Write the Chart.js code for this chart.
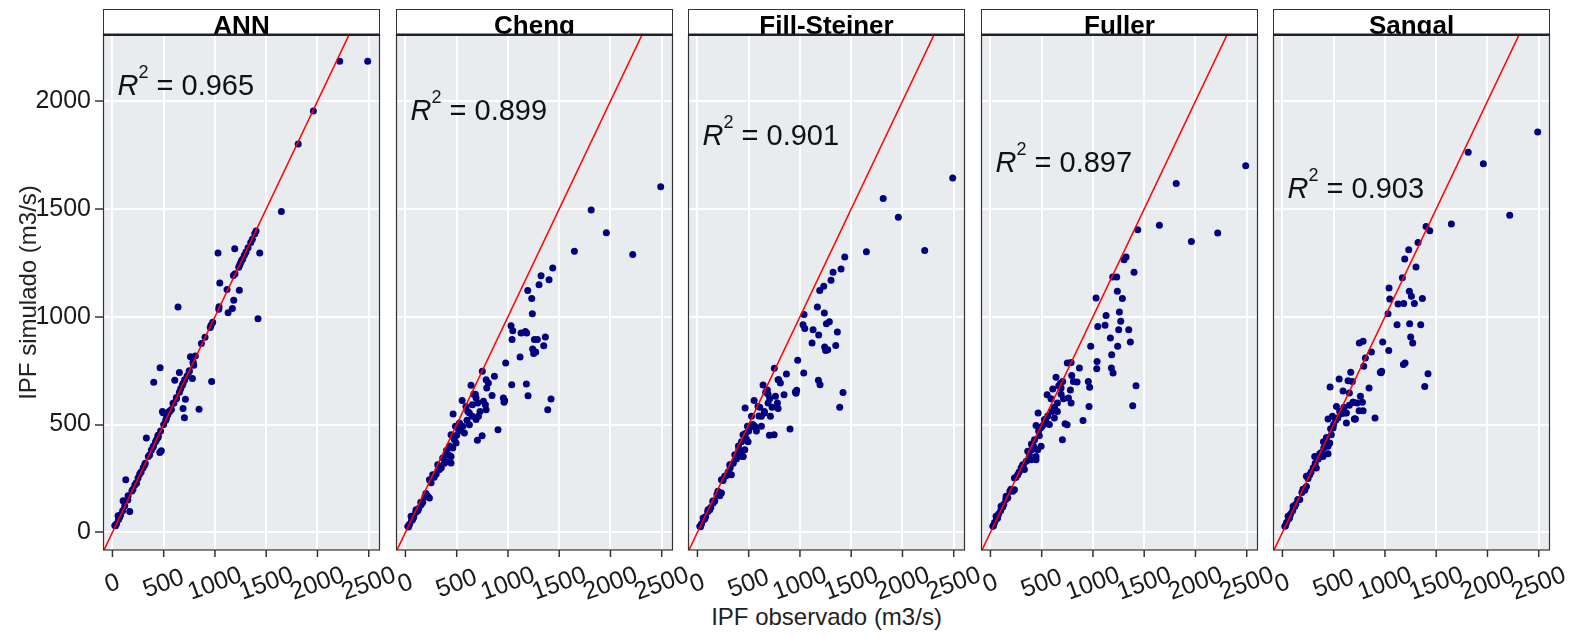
<!DOCTYPE html>
<html lang="pt">

<head>
    <meta charset="UTF-8">
    <title>IPF observado vs simulado</title>
    <script src="https://cdn.jsdelivr.net/npm/chart.js"></script>
    <style>
        body {
            margin: 0;
            background: #fff;
            width: 1573px;
            height: 638px;
            position: relative;
            overflow: hidden;
            font-family: "Liberation Sans", Arial, sans-serif;
        }

        canvas {
            position: absolute;
            top: 0;
        }

        #x-titulo {
            position: absolute;
            left: 103px;
            width: 1447px;
            top: 603px;
            text-align: center;
            font-size: 24px;
            line-height: 28px;
            color: #222;
        }
    </style>
</head>

<body>
    <div id="x-titulo">IPF observado (m3/s)</div>

    <script>
        // Modelos e R2
        const modelos = ['ANN', 'Cheng', 'Fill-Steiner', 'Fuller', 'Sangal'];
        const r2 = ['0.965', '0.899', '0.901', '0.897', '0.903'];
        const r2PosX = 50;
        const r2PosY = [2028, 1912, 1796, 1673, 1551];

        const xTicks = [0, 500, 1000, 1500, 2000, 2500];
        const yTicks = [0, 500, 1000, 1500, 2000];
        const xLimites = [-92, 2610];
        const yLimites = [-82, 2307];

        // IPF observado (m3/s), igual para todos os modelos
        const observado = [
            2490, 2217, 1960, 1812, 1648,
            1437, 1323, 1401, 1303, 1193, 1232, 1238, 1030, 1047, 1040, 1128, 1170, 1258, 1287, 1365, 1349, 1251, 1271, 1118, 1037, 1180, 1196, 1420, 1388, 1183, 1241,
            978, 955, 968, 962, 903, 868, 845,
            750, 787, 809, 793, 640, 761, 780, 787, 712, 689, 748, 702, 624, 689, 653, 624, 653, 591, 553, 608, 666, 728, 705, 682,
            465, 527, 559, 488, 575, 445, 477, 494, 462, 445, 403, 364, 445, 396, 315, 331, 266, 234, 234, 218,
            153, 104, 55, 23, 130, 169, 40, 80, 120, 190, 280, 300, 350, 380, 420, 500, 540, 600, 60, 100,
            250, 430, 470, 520, 30, 70, 150, 200, 320, 400
        ];

        // IPF simulado (m3/s) por modelo
        const simANN = [
            2185, 2185, 1954, 1801, 1488,
            1296, 1320, 1398, 1300, 1315, 1230, 1123, 1296, 1157, 1046, 1018, 1038, 1260, 1285, 1360, 1345, 1250, 1268, 1126, 1035, 1191, 1200, 991, 1385, 1077, 1240,
            975, 950, 700, 960, 905, 876, 571,
            750, 790, 818, 775, 1045, 815, 713, 785, 617, 574, 745, 531, 620, 690, 741, 625, 650, 599, 560, 705, 666, 725, 708, 682,
            764, 530, 560, 560, 570, 445, 378, 555, 370, 440, 696, 360, 450, 395, 312, 437, 270, 228, 230, 220,
            170, 147, 77, 32, 244, 97, 40, 82, 122, 192, 280, 300, 352, 382, 420, 500, 545, 600, 60, 100,
            252, 430, 470, 520, 30, 70, 150, 200, 320, 400
        ];
        const simCheng = [
            1603, 1289, 1390, 1495, 1304,
            1226, 1190, 1172, 1149, 1122, 1085, 1014, 958, 935, 894, 925, 932, 894, 894, 906, 866, 829, 836, 813, 685, 688, 634, 618, 569, 925, 850,
            785, 623, 612, 603, 476, 724, 635,
            747, 708, 693, 669, 682, 608, 592, 569, 538, 523, 448, 427, 499, 623, 592, 553, 538, 584, 611, 560, 640, 560, 600, 640,
            549, 507, 492, 492, 461, 453, 431, 414, 391, 352, 368, 345, 322, 329, 314, 291, 267, 244, 159, 167,
            128, 105, 74, 28, 110, 140, 38, 70, 100, 165, 255, 270, 300, 320, 360, 450, 480, 520, 55, 92,
            230, 400, 440, 470, 25, 60, 140, 180, 290, 380
        ];
        const simFillSteiner = [
            1644, 1307, 1462, 1549, 1302,
            1277, 1207, 1221, 1169, 1122, 1141, 1017, 963, 945, 1010, 940, 1045, 968, 977, 929, 867, 844, 847, 878, 739, 705, 685, 649, 580, 915, 860,
            798, 651, 659, 645, 479, 734, 638,
            761, 708, 693, 708, 683, 631, 600, 574, 538, 600, 453, 450, 492, 640, 553, 538, 560, 584, 611, 580, 650, 580, 620, 660,
            577, 538, 492, 492, 470, 453, 433, 420, 383, 352, 383, 360, 352, 352, 314, 267, 260, 244, 182, 170,
            136, 105, 66, 28, 115, 145, 40, 72, 105, 175, 262, 280, 320, 340, 370, 470, 500, 540, 58, 95,
            240, 420, 460, 490, 26, 62, 145, 190, 300, 400
        ];
        const simFuller = [
            1701, 1389, 1349, 1618, 1425,
            1404, 1277, 1206, 1265, 1184, 1184, 1118, 1087, 955, 793, 1006, 901, 1022, 1085, 883, 940, 940, 979, 960, 759, 762, 739, 680, 587, 824, 863,
            863, 700, 673, 584, 519, 762, 697,
            785, 788, 700, 727, 719, 623, 660, 600, 620, 669, 499, 430, 530, 640, 561, 580, 600, 620, 638, 665, 680, 504, 700, 690,
            553, 523, 540, 484, 500, 495, 448, 399, 383, 352, 383, 376, 337, 337, 314, 291, 267, 252, 198, 190,
            167, 121, 74, 28, 130, 160, 45, 85, 118, 190, 280, 300, 330, 360, 400, 490, 520, 560, 62, 100,
            255, 430, 470, 500, 30, 66, 152, 200, 310, 410
        ];
        const simSangal = [
            1857, 1471, 1710, 1763, 1430,
            1399, 1345, 1419, 1231, 1268, 1311, 1118, 1014, 1082, 1133, 1059, 1181, 1095, 1061, 1085, 963, 906, 878, 963, 844, 778, 785, 736, 677, 1061, 968,
            883, 742, 747, 740, 530, 836, 669,
            878, 886, 809, 770, 703, 631, 603, 564, 526, 603, 564, 526, 507, 603, 646, 553, 590, 655, 711, 553, 742, 600, 526, 700,
            674, 584, 560, 538, 550, 526, 453, 484, 414, 399, 391, 365, 365, 352, 352, 298, 267, 260, 213, 195,
            152, 121, 74, 28, 130, 152, 45, 85, 120, 185, 280, 300, 340, 370, 410, 500, 530, 580, 62, 100,
            250, 440, 480, 520, 30, 68, 150, 200, 320, 420
        ];

        const simulados = [simANN, simCheng, simFillSteiner, simFuller, simSangal];

        // posicao dos paineis na pagina
        const painelLeft = [103, 396, 688, 981, 1273];
        const painelLargura = 277;
        const margem = 22;
        const fonte = '"Liberation Sans", Arial, sans-serif';

        // fundo cinza, borda, faixa com titulo, rotulos do eixo x e R2
        const painelPlugin = {
            id: 'painel',
            beforeDraw(chart) {
                const { ctx, chartArea: a } = chart;
                ctx.save();
                ctx.fillStyle = '#E9ECEF';
                ctx.fillRect(a.left, a.top, a.right - a.left, a.bottom - a.top);
                ctx.restore();
            },
            afterDraw(chart, args, opts) {
                const { ctx, chartArea: a, scales } = chart;
                const w = a.right - a.left;
                ctx.save();

                // borda do painel
                ctx.strokeStyle = '#333';
                ctx.lineWidth = 1.2;
                ctx.strokeRect(a.left + 0.5, a.top, w - 1, a.bottom - a.top);

                // marcas do eixo x
                ctx.lineWidth = 1.5;
                xTicks.forEach(v => {
                    const px = scales.x.getPixelForValue(v);
                    ctx.beginPath();
                    ctx.moveTo(px, a.bottom);
                    ctx.lineTo(px, a.bottom + 7);
                    ctx.stroke();
                });

                // faixa do titulo
                const topo = 9;
                ctx.fillStyle = '#fff';
                ctx.fillRect(a.left, topo, w, a.top - topo);
                ctx.lineWidth = 1;
                ctx.strokeRect(a.left + 0.5, topo + 0.5, w - 1, a.top - topo);
                ctx.save();
                ctx.beginPath();
                ctx.rect(a.left, topo, w, a.top - topo - 1);
                ctx.clip();
                ctx.fillStyle = '#000';
                ctx.font = 'bold 26px ' + fonte;
                ctx.textAlign = 'center';
                ctx.textBaseline = 'alphabetic';
                ctx.fillText(opts.titulo, (a.left + a.right) / 2, 33.5);
                ctx.restore();
                ctx.fillStyle = '#222';
                ctx.fillRect(a.left, a.top - 1.5, w, 2.5);

                // rotulos do eixo x inclinados
                ctx.fillStyle = '#1a1a1a';
                ctx.font = '25px ' + fonte;
                ctx.textAlign = 'center';
                ctx.textBaseline = 'middle';
                xTicks.forEach(v => {
                    const px = scales.x.getPixelForValue(v);
                    ctx.save();
                    ctx.translate(px, 584);
                    ctx.rotate(-20 * Math.PI / 180);
                    ctx.fillText(String(v), 0, 0);
                    ctx.restore();
                });

                // R2
                const x0 = scales.x.getPixelForValue(r2PosX);
                const y0 = scales.y.getPixelForValue(opts.r2Y);
                ctx.fillStyle = '#111';
                ctx.textAlign = 'left';
                ctx.textBaseline = 'alphabetic';
                ctx.font = 'italic 29px ' + fonte;
                ctx.fillText('R', x0, y0);
                let x = x0 + ctx.measureText('R').width;
                ctx.font = '18px ' + fonte;
                ctx.fillText('2', x, y0 - 17);
                x += ctx.measureText('2').width;
                ctx.font = '29px ' + fonte;
                ctx.fillText(' = ' + opts.r2, x, y0);

                ctx.restore();
            }
        };

        modelos.forEach((modelo, i) => {
            const primeiro = i === 0;
            const canvas = document.createElement('canvas');
            const largura = primeiro ? painelLeft[0] + painelLargura + margem : painelLargura + 2 * margem;
            canvas.width = largura;
            canvas.height = 638;
            canvas.style.left = (primeiro ? 0 : painelLeft[i] - margem) + 'px';
            canvas.style.width = largura + 'px';
            canvas.style.height = '638px';
            document.body.appendChild(canvas);

            const pontos = observado.map((o, k) => ({ x: o, y: simulados[i][k] }));
            const linha1a1 = [
                { x: xLimites[0], y: xLimites[0] },
                { x: xLimites[1], y: xLimites[1] }
            ];

            new Chart(canvas.getContext('2d'), {
                type: 'scatter',
                data: {
                    datasets: [
                        {
                            type: 'line',
                            data: linha1a1,
                            borderColor: '#FF0000',
                            borderWidth: 1.5,
                            pointRadius: 0,
                            order: 0
                        },
                        {
                            data: pontos,
                            backgroundColor: '#000080',
                            borderWidth: 0,
                            pointRadius: 3.5,
                            order: 1
                        }
                    ]
                },
                options: {
                    responsive: false,
                    animation: false,
                    layout: {
                        padding: { top: 35, bottom: 0, left: primeiro ? 0 : margem, right: margem }
                    },
                    plugins: {
                        legend: { display: false },
                        tooltip: { enabled: false },
                        painel: { titulo: modelo, r2: r2[i], r2Y: r2PosY[i] }
                    },
                    scales: {
                        x: {
                            type: 'linear',
                            min: xLimites[0],
                            max: xLimites[1],
                            afterBuildTicks: s => { s.ticks = xTicks.map(v => ({ value: v })); },
                            afterFit: s => { s.height = 88; },
                            ticks: { display: false },
                            grid: { color: '#fff', lineWidth: 2, drawTicks: false },
                            border: { display: false }
                        },
                        y: {
                            type: 'linear',
                            min: yLimites[0],
                            max: yLimites[1],
                            afterBuildTicks: s => { s.ticks = yTicks.map(v => ({ value: v })); },
                            afterFit: s => { s.width = primeiro ? painelLeft[0] : 0; },
                            ticks: {
                                display: primeiro,
                                color: '#1a1a1a',
                                padding: 4,
                                font: { size: 25, family: fonte },
                                callback: v => String(v)
                            },
                            grid: {
                                color: '#fff',
                                lineWidth: 2,
                                drawTicks: primeiro,
                                tickLength: 8,
                                tickColor: '#333',
                                tickWidth: 1.5
                            },
                            border: { display: false },
                            title: {
                                display: primeiro,
                                text: 'IPF simulado (m3/s)',
                                color: '#222',
                                font: { size: 24, family: fonte },
                                padding: { top: 15, bottom: 0 }
                            }
                        }
                    }
                },
                plugins: [painelPlugin]
            });
        });
    </script>
</body>

</html>
